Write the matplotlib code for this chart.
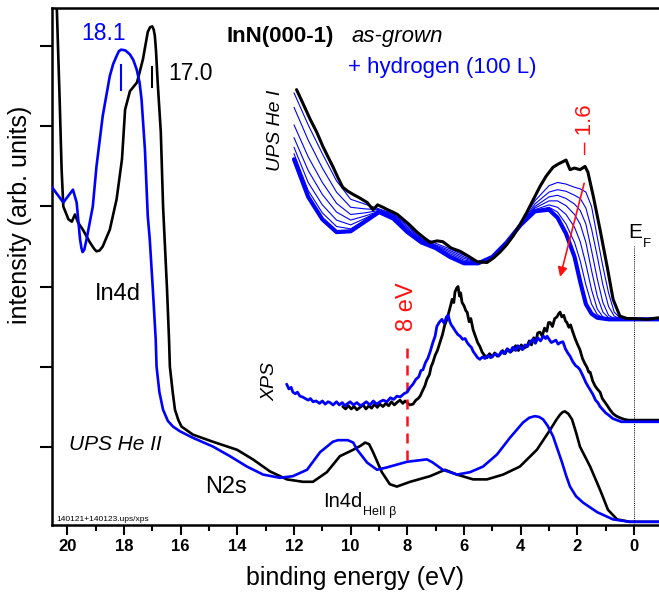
import matplotlib
matplotlib.use("Agg")
import matplotlib.pyplot as plt
from matplotlib.ticker import MultipleLocator

plt.rcParams['font.family'] = ['Liberation Sans', 'DejaVu Sans']

BLUE = '#0000ff'
RED = '#ff1010'

# ---------------- UPS He II (hv = 40.8 eV) ----------------
heii_asgrown_E = [20.45, 20.37, 20.27, 20.20, 20.14, 19.96, 19.84, 19.73, 19.62, 19.45, 19.20, 19.05,
                  18.97, 18.86, 18.75, 18.50, 18.26, 18.07, 17.96, 17.79, 17.54, 17.33, 17.16, 17.08,
                  17.0, 16.95, 16.91, 16.87, 16.81, 16.70, 16.62, 16.48, 16.41, 16.38, 16.28, 16.20,
                  16.08, 15.97, 15.57, 14.86, 14.01, 13.45, 12.85, 12.25, 11.69, 11.33, 10.84, 10.38,
                  9.91, 9.65, 9.49, 9.35, 9.21, 8.90, 8.62, 8.37, 7.90, 7.20, 6.67, 6.25, 5.68,
                  5.19, 4.62, 4.03, 3.43, 2.96, 2.75, 2.61, 2.52, 2.44, 2.32, 2.19, 2.05, 1.91,
                  1.55, 1.20, 0.92, 0.60, 0.15, -0.88]
heii_asgrown_I = [7.2, 6.48, 5.34, 4.46, 4.00, 3.84, 3.81, 3.90, 3.80, 3.71, 3.55, 3.47,
                  3.44, 3.45, 3.50, 3.71, 4.09, 4.59, 5.21, 5.44, 5.55, 5.84, 6.18, 6.24,
                  6.25, 6.21, 6.13, 5.95, 5.55, 4.93, 4.00, 2.96, 2.34, 2.00, 1.68, 1.46,
                  1.33, 1.25, 1.15, 1.06, 0.96, 0.84, 0.69, 0.59, 0.56, 0.56, 0.68, 0.88,
                  0.96, 1.01, 1.05, 1.03, 0.93, 0.68, 0.53, 0.50, 0.56, 0.63, 0.71, 0.65, 0.59,
                  0.59, 0.65, 0.75, 0.96, 1.21, 1.33, 1.40, 1.43, 1.44, 1.41, 1.34, 1.18, 1.00,
                  0.75, 0.46, 0.21, 0.09, 0.06, 0.06]

heii_hydrog_E = [20.65, 20.56, 20.14, 19.80, 19.67, 19.55, 19.50, 19.46, 19.40, 19.32, 19.10, 18.97,
                 18.75, 18.50, 18.38, 18.26, 18.18, 18.1, 17.95, 17.79, 17.67, 17.55, 17.45, 17.38,
                 17.26, 17.16, 17.09, 16.98, 16.88, 16.85, 16.75, 16.62, 16.45, 16.27, 16.02, 15.57,
                 14.86, 14.26, 13.66, 13.09, 12.50, 12.04, 11.54, 11.08, 10.63, 10.45, 10.28, 10.10,
                 9.91, 9.77, 9.42, 9.07, 8.72, 8.01, 7.31, 7.10, 6.75, 6.25, 5.79, 5.33, 4.84,
                 4.38, 3.92, 3.70, 3.50, 3.35, 3.21, 3.05, 2.86, 2.54, 2.40, 2.26, 2.05, 1.80,
                 1.30, 0.74, 0.15, -0.88]
heii_hydrog_I = [4.30, 4.25, 4.05, 4.21, 4.05, 3.59, 3.48, 3.43, 3.46, 3.59, 4.00, 4.50,
                 5.13, 5.63, 5.78, 5.88, 5.94, 5.96, 5.95, 5.90, 5.83, 5.71, 5.55, 5.34,
                 4.71, 3.88, 3.59, 2.96, 2.34, 2.00, 1.68, 1.46, 1.32, 1.25, 1.19, 1.11,
                 1.00, 0.88, 0.75, 0.65, 0.61, 0.63, 0.71, 0.93, 1.06, 1.08, 1.08, 1.08,
                 1.05, 0.96, 0.80, 0.71, 0.74, 0.81, 0.84, 0.80, 0.71, 0.65, 0.68, 0.75, 0.90,
                 1.11, 1.30, 1.36, 1.38, 1.37, 1.34, 1.26, 1.13, 0.80, 0.64, 0.50, 0.38, 0.30,
                 0.18, 0.09, 0.06, 0.06]

# ---------------- XPS valence band ----------------
xps_asgrown_E = [10.28, 10.18, 10.08, 9.98, 9.88, 9.78, 9.67, 9.56, 9.46, 9.36, 9.26, 9.16, 9.06,
                 8.97, 8.86, 8.76, 8.66, 8.56, 8.46, 8.37, 8.26, 8.16, 8.08, 8.01, 7.92, 7.80,
                 7.70, 7.62, 7.55, 7.46, 7.38, 7.31, 7.22, 7.16, 7.10, 7.02, 6.94, 6.85, 6.76,
                 6.68, 6.60, 6.52, 6.46, 6.42, 6.36, 6.32, 6.26, 6.21, 6.16, 6.12, 6.07, 6.00,
                 5.94, 5.89, 5.82, 5.76, 5.68, 5.60, 5.52, 5.44, 5.36, 5.28, 5.19, 5.10, 5.00,
                 4.92, 4.83, 4.73, 4.64, 4.55, 4.46, 4.36, 4.27, 4.18, 4.08, 3.98, 3.88, 3.78,
                 3.70, 3.62, 3.54, 3.46, 3.40, 3.32, 3.24, 3.16, 3.08, 3.02, 2.96, 2.88, 2.80,
                 2.72, 2.66, 2.61, 2.55, 2.48, 2.42, 2.37, 2.30, 2.24, 2.16, 2.08, 2.00, 1.91,
                 1.82, 1.74, 1.66, 1.60, 1.55, 1.46, 1.38, 1.30, 1.20, 1.12, 1.04, 0.96, 0.85,
                 0.74, 0.62, 0.50, 0.35, 0.20, 0.04, -0.40, -0.88]
xps_asgrown_I = [1.50, 1.47, 1.51, 1.47, 1.50, 1.46, 1.49, 1.52, 1.47, 1.51, 1.48, 1.53, 1.49,
                 1.53, 1.50, 1.54, 1.51, 1.56, 1.52, 1.55, 1.58, 1.54, 1.57, 1.55, 1.52, 1.53,
                 1.58, 1.60, 1.63, 1.70, 1.76, 1.84, 1.90, 2.00, 2.05, 2.14, 2.20, 2.30, 2.40,
                 2.52, 2.59, 2.70, 2.78, 2.84, 2.80, 2.93, 2.98, 3.00, 2.88, 2.92, 2.80, 2.76,
                 2.70, 2.68, 2.56, 2.60, 2.46, 2.38, 2.30, 2.25, 2.18, 2.14, 2.11, 2.16, 2.12,
                 2.17, 2.13, 2.15, 2.20, 2.16, 2.22, 2.18, 2.21, 2.26, 2.20, 2.27, 2.23, 2.25,
                 2.32, 2.27, 2.36, 2.32, 2.42, 2.43, 2.38, 2.48, 2.44, 2.55, 2.55, 2.50, 2.60,
                 2.62, 2.66, 2.68, 2.62, 2.64, 2.57, 2.55, 2.49, 2.52, 2.43, 2.35, 2.28, 2.21,
                 2.10, 2.04, 1.99, 1.93, 1.93, 1.82, 1.76, 1.72, 1.68, 1.60, 1.56, 1.52, 1.46,
                 1.41, 1.38, 1.36, 1.34, 1.33, 1.33, 1.33, 1.33]

xps_hydrog_E = [12.26, 12.18, 12.10, 12.04, 11.95, 11.88, 11.79, 11.70, 11.60, 11.50, 11.42, 11.33,
                11.22, 11.10, 11.00, 10.90, 10.80, 10.73, 10.62, 10.50, 10.40, 10.30, 10.20, 10.14,
                10.02, 9.90, 9.78, 9.66, 9.56, 9.45, 9.32, 9.20, 9.08, 8.97, 8.85, 8.72, 8.60,
                8.48, 8.37, 8.25, 8.12, 8.01, 7.90, 7.80, 7.70, 7.60, 7.52, 7.45, 7.36, 7.28,
                7.20, 7.10, 7.02, 6.96, 6.88, 6.78, 6.70, 6.62, 6.56, 6.50, 6.45, 6.39, 6.30,
                6.22, 6.14, 6.05, 5.96, 5.89, 5.80, 5.74, 5.68, 5.60, 5.52, 5.44, 5.35, 5.26,
                5.16, 5.06, 4.97, 4.88, 4.78, 4.68, 4.58, 4.48, 4.38, 4.28, 4.18, 4.10, 4.03,
                3.94, 3.85, 3.76, 3.66, 3.57, 3.48, 3.40, 3.30, 3.20, 3.12, 3.07, 2.98, 2.92,
                2.86, 2.76, 2.68, 2.60, 2.51, 2.42, 2.34, 2.26, 2.16, 2.06, 1.98, 1.91, 1.80,
                1.70, 1.62, 1.55, 1.45, 1.36, 1.28, 1.20, 1.10, 1.00, 0.92, 0.85, 0.75, 0.60,
                0.45, 0.25, 0.00, -0.40, -0.88]
xps_hydrog_I = [1.78, 1.72, 1.74, 1.68, 1.66, 1.68, 1.63, 1.62, 1.60, 1.58, 1.60, 1.56,
                1.57, 1.54, 1.57, 1.53, 1.56, 1.55, 1.52, 1.56, 1.52, 1.55, 1.51, 1.53,
                1.56, 1.52, 1.55, 1.51, 1.53, 1.56, 1.52, 1.57, 1.53, 1.56, 1.58, 1.56, 1.61,
                1.59, 1.63, 1.62, 1.66, 1.68, 1.74, 1.78, 1.84, 1.87, 1.95, 1.96, 2.05, 2.10,
                2.18, 2.30, 2.38, 2.50, 2.55, 2.59, 2.54, 2.62, 2.64, 2.56, 2.52, 2.49, 2.44,
                2.40, 2.38, 2.34, 2.35, 2.30, 2.26, 2.24, 2.19, 2.15, 2.11, 2.09, 2.12, 2.10,
                2.14, 2.11, 2.14, 2.16, 2.13, 2.19, 2.16, 2.22, 2.18, 2.24, 2.20, 2.26, 2.24,
                2.21, 2.27, 2.25, 2.31, 2.34, 2.29, 2.36, 2.32, 2.38, 2.35, 2.38, 2.33, 2.30,
                2.31, 2.33, 2.28, 2.30, 2.31, 2.22, 2.17, 2.13, 2.06, 2.01, 1.99, 1.96, 1.88,
                1.80, 1.75, 1.71, 1.65, 1.58, 1.55, 1.50, 1.46, 1.42, 1.40, 1.38, 1.35, 1.33,
                1.31, 1.31, 1.31, 1.31, 1.31]

# ---------------- UPS He I (hv = 21.2 eV), hydrogen dosing series ----------------
hei_asgrown_E = [11.91, 11.70, 11.43, 11.20, 10.98, 10.80, 10.63, 10.45, 10.28, 10.10, 9.91, 9.70,
                 9.42, 9.21, 9.05, 8.86, 8.70, 8.51, 8.35, 8.15, 7.95, 7.66, 7.45, 7.20, 6.95,
                 6.75, 6.45, 6.14, 5.85, 5.54, 5.19, 4.95, 4.73, 4.50, 4.27, 4.00, 3.78, 3.55,
                 3.32, 3.10, 2.86, 2.68, 2.51, 2.40, 2.26, 2.10, 1.91, 1.73, 1.63, 1.44, 1.20,
                 0.95, 0.74, 0.50, 0.25, 0.04, -0.46, -0.88]
hei_asgrown_I = [5.46, 5.30, 5.09, 4.93, 4.75, 4.62, 4.50, 4.36, 4.24, 4.19, 4.15, 4.11,
                 4.05, 3.96, 4.02, 3.99, 3.96, 3.93, 3.90, 3.84, 3.78, 3.68, 3.62, 3.55, 3.57,
                 3.56, 3.48, 3.44, 3.38, 3.31, 3.30, 3.36, 3.43, 3.52, 3.63, 3.79, 3.93, 4.09,
                 4.25, 4.38, 4.49, 4.53, 4.56, 4.58, 4.46, 4.48, 4.46, 4.50, 4.43, 4.13, 3.71,
                 3.25, 2.84, 2.63, 2.60, 2.60, 2.59, 2.61]

hei_grid_E = [12.0, 11.5, 11.0, 10.5, 10.0, 9.5, 9.0, 8.5, 8.0, 7.5, 7.0, 6.5, 6.0, 5.5, 5.0,
              4.5, 4.0, 3.5, 3.0, 2.7, 2.4, 2.1, 1.9, 1.7, 1.5, 1.3, 1.1, 0.9, 0.7, 0.5, 0.2, -0.88]
hei_dose_I = [
    [5.42, 5.02, 4.66, 4.32, 4.09, 4.03, 3.97, 3.91, 3.78, 3.62, 3.54, 3.47, 3.39, 3.31, 3.35,
     3.53, 3.79, 4.07, 4.26, 4.30, 4.28, 4.24, 4.22, 4.18, 4.00, 3.62, 3.25, 2.92, 2.68, 2.61, 2.60, 2.60],
    [5.24, 4.83, 4.48, 4.18, 3.99, 3.97, 3.96, 3.90, 3.76, 3.60, 3.52, 3.45, 3.37, 3.30, 3.35,
     3.53, 3.78, 4.03, 4.18, 4.21, 4.19, 4.14, 4.10, 3.98, 3.72, 3.38, 3.02, 2.75, 2.63, 2.60, 2.59, 2.60],
    [5.02, 4.62, 4.30, 4.04, 3.90, 3.92, 3.95, 3.89, 3.74, 3.59, 3.51, 3.43, 3.35, 3.30, 3.36,
     3.54, 3.78, 4.00, 4.12, 4.14, 4.10, 4.03, 3.95, 3.78, 3.45, 3.10, 2.80, 2.64, 2.60, 2.59, 2.59, 2.59],
    [4.86, 4.45, 4.15, 3.93, 3.83, 3.88, 3.94, 3.88, 3.72, 3.58, 3.50, 3.41, 3.33, 3.30, 3.36,
     3.54, 3.78, 3.98, 4.07, 4.07, 4.01, 3.90, 3.78, 3.55, 3.20, 2.88, 2.68, 2.61, 2.59, 2.59, 2.59, 2.59],
    [4.74, 4.30, 4.02, 3.83, 3.77, 3.85, 3.94, 3.87, 3.70, 3.57, 3.49, 3.39, 3.31, 3.29, 3.37,
     3.55, 3.77, 3.96, 4.02, 3.99, 3.90, 3.74, 3.56, 3.28, 2.96, 2.72, 2.62, 2.60, 2.59, 2.59, 2.59, 2.59],
    [4.66, 4.20, 3.92, 3.75, 3.72, 3.83, 3.93, 3.86, 3.69, 3.56, 3.48, 3.38, 3.30, 3.29, 3.37,
     3.55, 3.77, 3.95, 3.99, 3.93, 3.78, 3.55, 3.32, 3.02, 2.78, 2.65, 2.61, 2.59, 2.59, 2.59, 2.59, 2.59],
]
hei_saturated_I = [4.59, 4.12, 3.84, 3.68, 3.69, 3.81, 3.93, 3.85, 3.68, 3.55, 3.48, 3.37, 3.29, 3.29,
                   3.37, 3.55, 3.77, 3.94, 3.96, 3.86, 3.66, 3.37, 3.06, 2.78, 2.66, 2.61, 2.60, 2.59,
                   2.59, 2.59, 2.59, 2.59]

peak_asgrown = 17.0
peak_hydrog = 18.1
shift_label = "– 1.6"
xps_onset = 8.0

x_ticks_major = [20, 18, 16, 14, 12, 10, 8, 6, 4, 2, 0]

# ---------------- figure ----------------
fig = plt.figure(figsize=(6.59, 5.97), dpi=100)
ax = fig.add_axes([51.7 / 659, 72 / 597, 1 - 51.7 / 659, 517 / 597])

line_kw = dict(solid_joinstyle='round', solid_capstyle='round')

# He I dosing series
for ys in hei_dose_I:
    ax.plot(hei_grid_E, ys, color=BLUE, lw=0.8, zorder=2, **line_kw)
ax.plot(hei_grid_E, hei_saturated_I, color=BLUE, lw=3.0, zorder=2, **line_kw)
ax.plot(hei_asgrown_E, hei_asgrown_I, color='black', lw=2.2, zorder=3, **line_kw)

# XPS
ax.plot(xps_hydrog_E, xps_hydrog_I, color=BLUE, lw=2.0, zorder=3, **line_kw)
ax.plot(xps_asgrown_E, xps_asgrown_I, color='black', lw=2.0, zorder=2, **line_kw)

# He II
ax.plot(heii_asgrown_E, heii_asgrown_I, color='black', lw=1.9, zorder=2, **line_kw)
ax.plot(heii_hydrog_E, heii_hydrog_I, color=BLUE, lw=1.9, zorder=3, **line_kw)

# peak markers
ax.plot([peak_hydrog, peak_hydrog], [5.46, 5.77], color=BLUE, lw=1.5)
ax.plot([peak_asgrown, peak_asgrown], [5.49, 5.74], color='black', lw=1.5)
ax.text(18.71, 6.08, f"{peak_hydrog:.1f}", color=BLUE, fontsize=16.5, ha='center', va='baseline')
ax.text(16.45, 5.58, f"{peak_asgrown:.1f}", color='black', fontsize=16.5, ha='left', va='baseline')

# Fermi level
ax.plot([0, 0], [0, 3.50], color='black', lw=0.7, ls=(0, (1, 1.2)))
ax.text(0.21, 3.61, "E", fontsize=15, ha='left', va='baseline')
ax.text(-0.32, 3.49, "F", fontsize=9.5, ha='left', va='baseline')

# XPS onset marker
ax.plot([xps_onset, xps_onset], [0.83, 2.31], color=RED, lw=1.8, ls=(0, (4, 2.8)))
ax.text(8.01, 2.75, f"{xps_onset:g} eV", color=RED, fontsize=17, rotation=90,
        ha='center', va='center')

# band bending arrow
ax.annotate("", xy=(2.61, 3.12), xytext=(1.76, 4.29),
            arrowprops=dict(arrowstyle='-|>', color=RED, lw=1.2, mutation_scale=14,
                            shrinkA=0, shrinkB=0))
ax.text(1.73, 4.96, shift_label, color=RED, fontsize=16, rotation=90, ha='center', va='center')

# titles / legend text
ax.text(14.38, 6.05, "InN(000-1)", fontsize=16, fontweight='bold', ha='left', va='baseline')
ax.text(9.96, 6.05, "as-grown", fontsize=16, fontstyle='italic', ha='left', va='baseline')
ax.text(10.10, 5.67, "+ hydrogen (100 L)", fontsize=16, color=BLUE, ha='left', va='baseline')

# spectrum labels
ax.text(12.67, 4.95, "UPS He I", fontsize=14, fontstyle='italic', rotation=90,
        ha='center', va='center')
ax.text(12.85, 1.81, "XPS", fontsize=14, fontstyle='italic', rotation=90,
        ha='center', va='center')
ax.text(18.32, 1.03, "UPS He II", fontsize=15, fontstyle='italic', ha='center', va='center')
ax.text(19.03, 2.83, "In4d", fontsize=17, ha='left', va='baseline')
ax.text(15.14, 0.42, "N2s", fontsize=17, ha='left', va='baseline')
ax.text(10.98, 0.25, "In4d", fontsize=14.5, ha='left', va='baseline')
ax.text(9.57, 0.15, "HeII β", fontsize=9, ha='left', va='baseline')
ax.text(20.37, 0.07, "140121+140123.ups/xps", fontsize=6, ha='left', va='baseline')

# axes styling
ax.set_xlim(20.55, -0.88)
ax.set_ylim(0.02, 6.48)
ax.set_xticks(x_ticks_major)
ax.set_xticklabels([str(v) for v in x_ticks_major], fontweight='bold', fontsize=12)
ax.xaxis.set_minor_locator(MultipleLocator(1))
ax.set_yticks([1, 2, 3, 4, 5, 6])
ax.tick_params(axis='y', direction='out', length=8.5, width=1.5, labelleft=False)
ax.tick_params(axis='x', which='major', direction='out', length=7, width=1.5, pad=3)
ax.tick_params(axis='x', which='minor', direction='out', length=4, width=1.5)
ax.spines['right'].set_visible(False)
for s in ('left', 'bottom', 'top'):
    ax.spines[s].set_linewidth(1.8)

ax.set_xlabel("binding energy (eV)", fontsize=18)
ax.xaxis.label.set_verticalalignment('center')
ax.xaxis.set_label_coords(0.5, -0.1025)
ax.set_ylabel("intensity (arb. units)", fontsize=18)
ax.yaxis.label.set_verticalalignment('center')
ax.yaxis.set_label_coords(-0.052, 0.60)

fig.savefig("out.png", dpi=100)
